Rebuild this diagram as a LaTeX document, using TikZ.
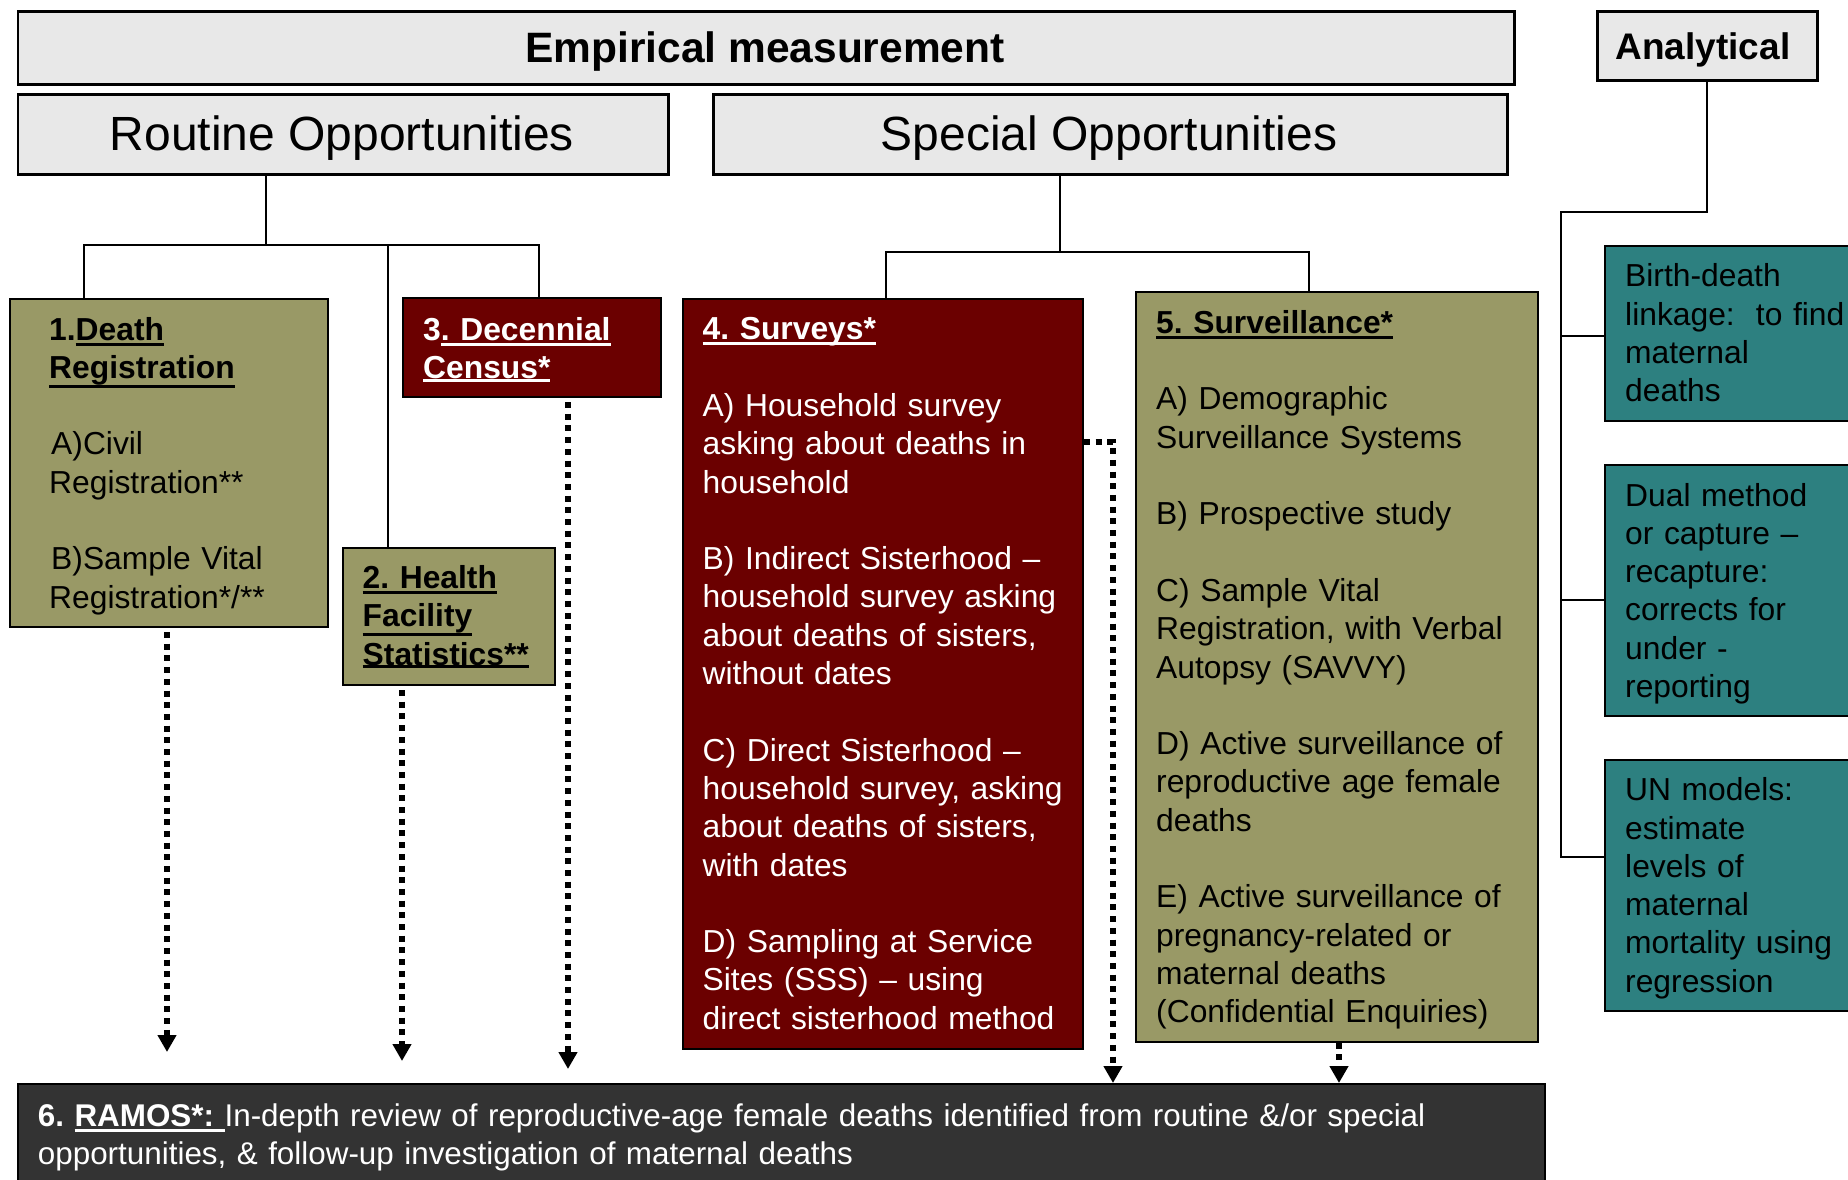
\documentclass[tikz,border=0pt]{standalone}
\usepackage{fontspec}
\setmainfont{Liberation Sans}
\usetikzlibrary{arrows.meta}
\definecolor{hdrgray}{RGB}{232,232,232}
\definecolor{boxolive}{RGB}{153,153,102}
\definecolor{boxred}{RGB}{107,0,0}
\definecolor{boxteal}{RGB}{45,128,128}
\definecolor{boxgray}{RGB}{51,51,51}
\frenchspacing
\newsavebox\ulbox
\newlength\ulgap
\newcommand\ulx[1]{\leavevmode\sbox\ulbox{#1}\ulgap=\dp\ulbox\ifdim\ulgap<2.5pt \ulgap=2.5pt\fi\rlap{\rule[\dimexpr-\ulgap-3pt\relax]{\wd\ulbox}{3pt}}\usebox\ulbox}
\tikzset{
  hdr/.style={draw=black, line width=2.5pt, fill=hdrgray, inner sep=0pt, anchor=north west},
  bx/.style={draw=black, line width=2pt, inner sep=0pt, anchor=north west},
  txt/.style={anchor=base west, inner sep=0pt, text width=#1, align=left, font=\frenchspacing\fontsize{31.8}{38.3}\selectfont},
  conn/.style={line width=1.6pt},
  dotarr/.style={line width=5.5pt, dash pattern=on 6pt off 5.7pt, -{Triangle[length=17pt,width=18pt]}}
}
\begin{document}
\begin{tikzpicture}[x=1pt,y=-1pt]
\useasboundingbox (0,0) rectangle (1848,1179);
\clip (0,0) rectangle (1848,1179);
% junction coordinates
\coordinate (r0) at (266,245);
\coordinate (r1) at (84,245);
\coordinate (r2) at (388,245);
\coordinate (r3) at (539,245);
\coordinate (s0) at (1060,252);
\coordinate (s1) at (886,252);
\coordinate (s2) at (1309,252);
\coordinate (av) at (1561,212);
\coordinate (y1) at (0,336);
\coordinate (y2) at (0,600);
\coordinate (y3) at (0,857);
% boxes
\node[hdr, minimum width=1496.5pt, minimum height=73pt] (emp) at (16.5,10) {};
\node[hdr, minimum width=220pt, minimum height=69pt] (ana) at (1596,10) {};
\node[hdr, minimum width=650.5pt, minimum height=80pt] (rout) at (16.5,93) {};
\node[hdr, minimum width=794pt, minimum height=80pt] (spec) at (712,93) {};
\node[bx, fill=boxolive, minimum width=318pt, minimum height=328pt] (b1) at (9,298) {};
\node[bx, fill=boxolive, minimum width=212pt, minimum height=137pt] (b2) at (341.5,547) {};
\node[bx, fill=boxred, minimum width=258pt, minimum height=99pt] (b3) at (402,297) {};
\node[bx, fill=boxred, minimum width=400pt, minimum height=749.5pt] (b4) at (682,298) {};
\node[bx, fill=boxolive, minimum width=402pt, minimum height=750pt] (b5) at (1135,290.5) {};
\node[bx, fill=boxgray, minimum width=1527.5pt, minimum height=130pt] (b6) at (16.5,1083) {};
\node[bx, fill=boxteal, minimum width=270pt, minimum height=175pt] (tl1) at (1604,245) {};
\node[bx, fill=boxteal, minimum width=270pt, minimum height=251pt] (tl2) at (1604,464) {};
\node[bx, fill=boxteal, minimum width=270pt, minimum height=251pt] (tl3) at (1604,759) {};
% tree connectors
\draw[conn] (rout.south -| r0) -- (r0);
\draw[conn] (b1.north -| r1) -- (r1) -- (r3) -- (b3.north -| r3);
\draw[conn] (r2) -- (b2.north -| r2);
\draw[conn] (spec.south -| s0) -- (s0);
\draw[conn] (b4.north -| s1) -- (s1) -- (s2) -- (b5.north -| s2);
\draw[conn] (ana.south) |- (av) -- (av |- y3) -- (tl3.west |- y3);
\draw[conn] (av |- y1) -- (tl1.west |- y1);
\draw[conn] (av |- y2) -- (tl2.west |- y2);
% dotted arrows
\coordinate (e1) at (167,1052);
\coordinate (e2) at (402,1061);
\coordinate (e3) at (568,1069);
\coordinate (k) at (1113,442);
\coordinate (c5) at (1339,0);
\draw[dotarr, shorten <=4pt] (b1.south -| e1) -- (e1);
\draw[dotarr, shorten <=4pt] (b2.south -| e2) -- (e2);
\draw[dotarr, shorten <=4pt] (b3.south -| e3) -- (e3);
\draw[dotarr] (b4.east |- k) -| (b6.north -| k);
\draw[dotarr] (b5.south -| c5) -- (b6.north -| c5);
% header texts
\node[anchor=base, inner sep=0pt, font=\bfseries\fontsize{42.5}{50}\selectfont] (tEmp) at (765,62.7) {Empirical measurement};
\node[anchor=base, inner sep=0pt, font=\bfseries\fontsize{37}{44}\selectfont] (tAna) at (1703,59) {Analytical};
\node[anchor=base, inner sep=0pt, font=\fontsize{48}{56}\selectfont] (tRout) at (341.8,150.7) {Routine Opportunities};
\node[anchor=base, inner sep=0pt, font=\fontsize{48}{56}\selectfont] (tSpec) at (1109,150.7) {Special Opportunities};
% box texts
\node[txt=300pt] (t1) at (49,340) {{\bfseries 1.\ulx{Death}\\\ulx{Registration}}\\[38.3pt]\hspace*{2pt}A)Civil\\Registration**\\[38.3pt]\hspace*{2pt}B)Sample Vital\\Registration*/**};
\node[txt=200pt] (t2) at (362.5,588.5) {\bfseries\ulx{2. Health}\\\ulx{Facility}\\\ulx{Statistics**}};
\node[txt=240pt, text=white] (t3) at (423,340) {\bfseries 3\ulx{. Decennial}\\\ulx{Census*}};
\node[txt=390pt, text=white] (t4) at (702.5,339.8) {{\bfseries\ulx{4. Surveys*}}\\[38.3pt]A) Household survey\\asking about deaths in\\household\\[38.3pt]B) Indirect Sisterhood –\\household survey asking\\about deaths of sisters,\\without dates\\[38.3pt]C) Direct Sisterhood –\\household survey, asking\\about deaths of sisters,\\with dates\\[38.3pt]D) Sampling at Service\\Sites (SSS) – using\\direct sisterhood method};
\node[txt=380pt] (t5) at (1156,333.3) {{\bfseries\ulx{5. Surveillance*}}\\[38.3pt]A) Demographic\\Surveillance Systems\\[38.3pt]B) Prospective study\\[38.3pt]C) Sample Vital\\Registration, with Verbal\\Autopsy (SAVVY)\\[38.3pt]D) Active surveillance of\\reproductive age female\\deaths\\[38.3pt]E) Active surveillance of\\pregnancy-related or\\maternal deaths\\(Confidential Enquiries)};
\node[txt=1500pt, text=white, font=\frenchspacing\fontsize{31.4}{38.6}\selectfont] (t6) at (37.7,1126) {{\bfseries 6. \ulx{RAMOS*:\ }}In-depth review of reproductive-age female deaths identified from routine \&/or special\\opportunities, \& follow-up investigation of maternal deaths};
\node[txt=240pt] (tt1) at (1625,286.8) {Birth-death\\linkage:~ to find\\maternal\\deaths};
\node[txt=240pt] (tt2) at (1625,506) {Dual method\\or capture –\\recapture:\\corrects for\\under -\\reporting};
\node[txt=240pt] (tt3) at (1625,800.7) {UN models:\\estimate\\levels of\\maternal\\mortality using\\regression};
\end{tikzpicture}
\end{document}
